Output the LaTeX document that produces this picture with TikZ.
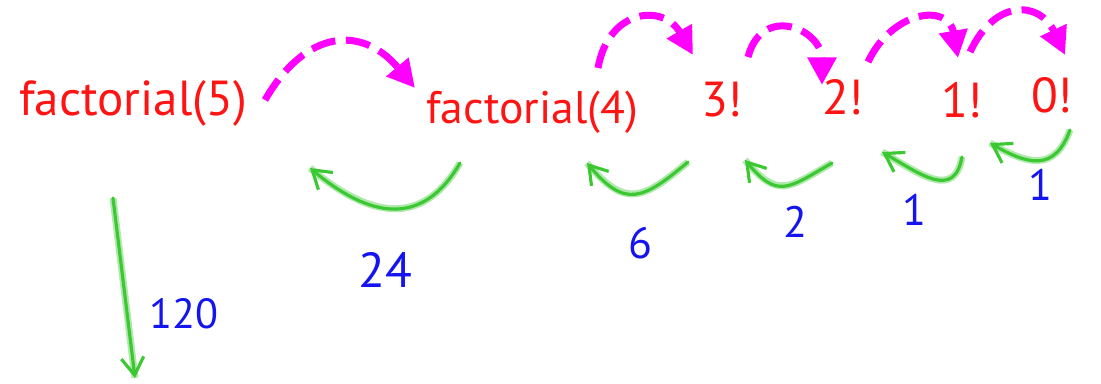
\documentclass[tikz,border=0pt]{standalone}
\usepackage{fontspec}
\setmainfont{PT Sans}
\usetikzlibrary{arrows.meta,calc}
\definecolor{penred}{RGB}{255,20,20}
\definecolor{penmagenta}{RGB}{255,0,255}
\definecolor{pengreen}{RGB}{60,200,50}
\definecolor{penblue}{RGB}{20,20,240}

\begin{document}
\begin{tikzpicture}[x=0.02cm, y=0.02cm,
    fact/.style={text=penred, inner sep=0pt, font=\fontsize{28}{32}\selectfont},
    val/.style={text=penblue, inner sep=0pt, font=\fontsize{25}{29}\selectfont},
    call/.style={-{Triangle[length=5.5mm, width=5.5mm]}, penmagenta, line width=4pt,
                 dash pattern=on 14pt off 6pt},
    ret/.style={-{Straight Barb[length=3.5mm, width=4.5mm]}, pengreen, line width=1.8pt,
                line cap=round, preaction={draw=pengreen!40, line width=4pt, -}}
]
\useasboundingbox (0,0) rectangle (1101,-384);

\node[fact]                                      (fact5) at (133,-103) {factorial(5)};
\node[fact, font=\fontsize{26}{30}\selectfont]   (fact4) at (532,-112) {factorial(4)};
\node[fact]                                      (f3)    at (722,-100) {3!};
\node[fact]                                      (f2)    at (843,-97)  {2!};
\node[fact]                                      (f1)    at (962,-100) {1!};
\node[fact]                                      (f0)    at (1052,-95) {0!};

\node[val, font=\fontsize{24}{28}\selectfont]    (v120)  at (184,-314) {120};
\node[val, font=\fontsize{28}{32}\selectfont]    (v24)   at (385,-270) {24};
\node[val]                                       (v6)    at (640,-243) {6};
\node[val]                                       (v2)    at (795,-222) {2};
\node[val]                                       (v1a)   at (914,-210) {1};
\node[val]                                       (v1b)   at (1040,-185) {1};
\coordinate (res) at (135,-378);

% calls going down
\draw[call] ($(fact5)+(132,3)$) to[out=60,in=130,looseness=1.4] ($(fact4)+(-117,24)$);
\draw[call] ($(fact4)+(66,44)$) to[out=80,in=120,looseness=1.6] ($(f3)+(-29,45)$);
\draw[call] ($(f3)+(26,43)$)    to[out=75,in=90,looseness=1.8]  ($(f2)+(-21,12)$);
\draw[call] ($(f2)+(25,35)$)    to[out=65,in=100,looseness=1.6] ($(f1)+(-4,42)$);
\draw[call] ($(f1)+(8,48)$)     to[out=65,in=115,looseness=1.6] ($(f0)+(13,40)$);

% results coming back
\draw[ret] ($(fact4)+(-72,-51)$) to[out=-120,in=-40,looseness=1.3] ($(fact5)+(177,-65)$);
\draw[ret] ($(f3)+(-34,-62)$)    to[out=-140,in=-50,looseness=1.5] ($(fact4)+(55,-51)$);
\draw[ret] ($(f2)+(-11,-66)$)    to[out=-150,in=-50,looseness=1.5] ($(f3)+(23,-60)$);
\draw[ret] ($(f1)+(0,-57)$)      to[out=-100,in=-30,looseness=1.4] ($(f2)+(39,-55)$);
\draw[ret] ($(f0)+(18,-35)$)     to[out=-110,in=-30,looseness=1.4] ($(f1)+(28,-43)$);
\draw[ret] ($(fact5)+(-20,-95)$) -- (res);
\end{tikzpicture}
\end{document}
